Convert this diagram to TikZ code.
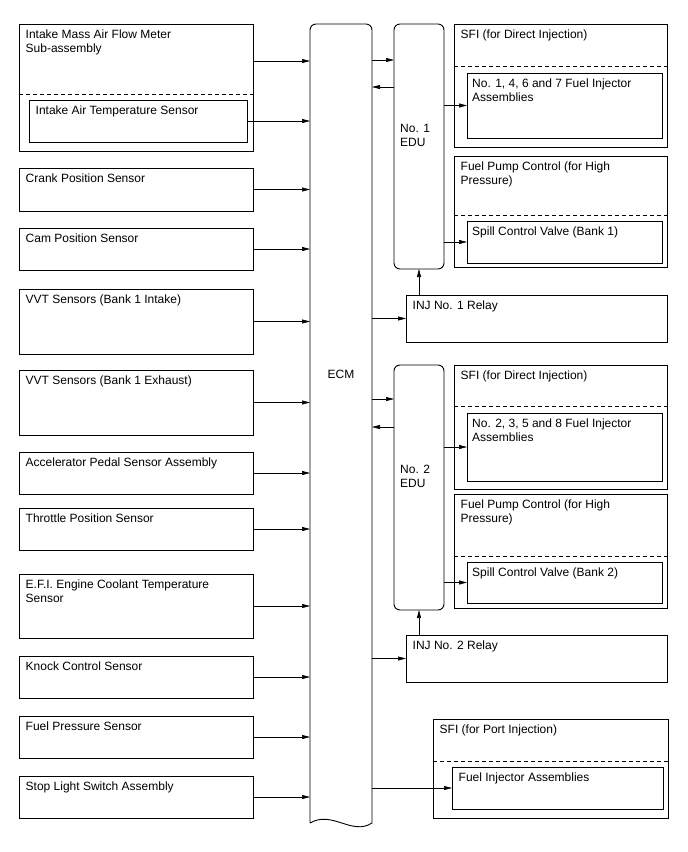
\documentclass[tikz,border=0pt]{standalone}
\usepackage{fontspec}
\setmainfont{Liberation Sans}
\usepackage{tikz}
\usetikzlibrary{arrows.meta}

\begin{document}
\begin{tikzpicture}[x=1pt,y=-1pt,
    blk/.style={draw,line width=0.9pt,inner sep=0pt,outer sep=0pt,anchor=north west},
    edu/.style={blk,rounded corners=6pt,minimum width=50pt},
    txt/.style={anchor=north west,inner sep=0pt,xshift=6.5pt,yshift=-5.3pt,align=left,
                font=\fontsize{12}{14}\selectfont},
    edutxt/.style={anchor=west,inner sep=0pt,xshift=6pt,yshift=11pt,align=left,
                font=\fontsize{12}{14}\selectfont},
    sep/.style={line width=0.6pt,dash pattern=on 4pt off 3pt},
    ar/.style={-{Triangle[length=8pt,width=4pt]},line width=0.6pt}
  ]
  \useasboundingbox (0,0) rectangle (688,852);

  % sensors on the left
  \node[blk,minimum width=234pt,minimum height=127pt,label={[txt]north west:Intake Mass Air Flow Meter\\Sub-assembly}] (maf) at (19,24) {};
  \node[blk,minimum width=218pt,minimum height=42pt,label={[txt]north west:Intake Air Temperature Sensor}] (iat) at (29,100) {};
  \node[blk,minimum width=234pt,minimum height=43pt,label={[txt]north west:Crank Position Sensor}] (crank) at (19,168) {};
  \node[blk,minimum width=234pt,minimum height=42pt,label={[txt]north west:Cam Position Sensor}] (cam) at (19,228) {};
  \node[blk,minimum width=234pt,minimum height=65pt,label={[txt]north west:VVT Sensors (Bank 1 Intake)}] (vvtin) at (19,289) {};
  \node[blk,minimum width=234pt,minimum height=65pt,label={[txt]north west:VVT Sensors (Bank 1 Exhaust)}] (vvtex) at (19,370) {};
  \node[blk,minimum width=234pt,minimum height=42pt,label={[txt]north west:Accelerator Pedal Sensor Assembly}] (accel) at (19,452) {};
  \node[blk,minimum width=234pt,minimum height=42pt,label={[txt]north west:Throttle Position Sensor}] (tps) at (19,508) {};
  \node[blk,minimum width=234pt,minimum height=64pt,label={[txt]north west:E.F.I. Engine Coolant Temperature\\Sensor}] (ect) at (19,574) {};
  \node[blk,minimum width=234pt,minimum height=42pt,label={[txt]north west:Knock Control Sensor}] (knock) at (19,656) {};
  \node[blk,minimum width=234pt,minimum height=42pt,label={[txt]north west:Fuel Pressure Sensor}] (fuelp) at (19,716) {};
  \node[blk,minimum width=234pt,minimum height=42pt,label={[txt]north west:Stop Light Switch Assembly}] (stop) at (19,776) {};
  \draw[sep] (maf.west |- 0,94) -- (maf.east |- 0,94);

  % ECM
  \node[inner sep=0pt,outer sep=0pt,anchor=north west,minimum width=62pt,minimum height=799pt] (ecm) at (310,24) {};
  \draw[line width=0.9pt] (ecm.south west) [rounded corners=6pt] -- (ecm.north west) -- (ecm.north east)
    -- (ecm.east) [sharp corners] -- (ecm.south east) .. controls (352,836) and (332,810) .. (ecm.south west);
  \node[font=\fontsize{12}{14}\selectfont] (ecmtxt) at (ecm.center |- 0,374) {ECM};

  % bank 1
  \node[edu,minimum height=245pt,label={[edutxt]west:No. 1\\EDU}] (edua) at (394,24) {};
  \node[blk,minimum width=213pt,minimum height=123pt,label={[txt]north west:SFI (for Direct Injection)}] (sfia) at (454,24) {};
  \node[blk,minimum width=195pt,minimum height=65pt,label={[txt,xshift=-1.5pt]north west:No. 1, 4, 6 and 7 Fuel Injector\\Assemblies}] (inja) at (467,73) {};
  \node[blk,minimum width=213pt,minimum height=111pt,label={[txt]north west:Fuel Pump Control (for High\\Pressure)}] (pumpa) at (454,156) {};
  \node[blk,minimum width=195pt,minimum height=42pt,label={[txt,xshift=-1.5pt]north west:Spill Control Valve (Bank 1)}] (spilla) at (467,221) {};
  \node[blk,minimum width=261pt,minimum height=47pt,label={[txt]north west:INJ No. 1 Relay}] (relaya) at (406,295) {};
  \draw[sep] (sfia.west |- 0,66) -- (sfia.east |- 0,66);
  \draw[sep] (pumpa.west |- 0,215) -- (pumpa.east |- 0,215);

  % bank 2
  \node[edu,minimum height=245pt,label={[edutxt]west:No. 2\\EDU}] (edub) at (394,365) {};
  \node[blk,minimum width=213pt,minimum height=124pt,label={[txt]north west:SFI (for Direct Injection)}] (sfib) at (454,365) {};
  \node[blk,minimum width=195pt,minimum height=68pt,label={[txt,xshift=-1.5pt]north west:No. 2, 3, 5 and 8 Fuel Injector\\Assemblies}] (injb) at (467,413) {};
  \node[blk,minimum width=213pt,minimum height=114pt,label={[txt]north west:Fuel Pump Control (for High\\Pressure)}] (pumpb) at (454,494) {};
  \node[blk,minimum width=195pt,minimum height=41pt,label={[txt,xshift=-1.5pt]north west:Spill Control Valve (Bank 2)}] (spillb) at (467,562) {};
  \node[blk,minimum width=261pt,minimum height=47pt,label={[txt]north west:INJ No. 2 Relay}] (relayb) at (406,635) {};
  \draw[sep] (sfib.west |- 0,406) -- (sfib.east |- 0,406);
  \draw[sep] (pumpb.west |- 0,556) -- (pumpb.east |- 0,556);

  % port injection
  \node[blk,minimum width=235pt,minimum height=99pt,label={[txt]north west:SFI (for Port Injection)}] (sfip) at (433,719) {};
  \node[blk,minimum width=211pt,minimum height=42pt,label={[txt]north west:Fuel Injector Assemblies}] (injp) at (452,767) {};
  \draw[sep] (sfip.west |- 0,761) -- (sfip.east |- 0,761);

  % inputs to ECM
  \draw[ar] (maf.east |- 0,61) -- (ecm.west |- 0,61);
  \draw[ar] (iat.east) -- (iat.east -| ecm.west);
  \draw[ar] (crank.east) -- (crank.east -| ecm.west);
  \draw[ar] (cam.east) -- (cam.east -| ecm.west);
  \draw[ar] (vvtin.east) -- (vvtin.east -| ecm.west);
  \draw[ar] (vvtex.east) -- (vvtex.east -| ecm.west);
  \draw[ar] (accel.east) -- (accel.east -| ecm.west);
  \draw[ar] (tps.east) -- (tps.east -| ecm.west);
  \draw[ar] (ect.east) -- (ect.east -| ecm.west);
  \draw[ar] (knock.east) -- (knock.east -| ecm.west);
  \draw[ar] (fuelp.east) -- (fuelp.east -| ecm.west);
  \draw[ar] (stop.east) -- (stop.east -| ecm.west);

  % outputs of ECM
  \draw[ar] (ecm.east |- 0,60) -- (edua.west |- 0,60);
  \draw[ar] (edua.west |- 0,87) -- (ecm.east |- 0,87);
  \draw[ar] (edua.east |- inja.west) -- (inja.west);
  \draw[ar] (edua.east |- spilla.west) -- (spilla.west);
  \draw[ar] (relaya.west -| ecm.east) -- (relaya.west);
  \draw[ar] (edua.south |- relaya.north) -- (edua.south);
  \draw[ar] (ecm.east |- 0,399) -- (edub.west |- 0,399);
  \draw[ar] (edub.west |- 0,427) -- (ecm.east |- 0,427);
  \draw[ar] (edub.east |- injb.west) -- (injb.west);
  \draw[ar] (edub.east |- spillb.west) -- (spillb.west);
  \draw[ar] (relayb.west -| ecm.east) -- (relayb.west);
  \draw[ar] (edub.south |- relayb.north) -- (edub.south);
  \draw[ar] (injp.west -| ecm.east) -- (injp.west);
\end{tikzpicture}
\end{document}
